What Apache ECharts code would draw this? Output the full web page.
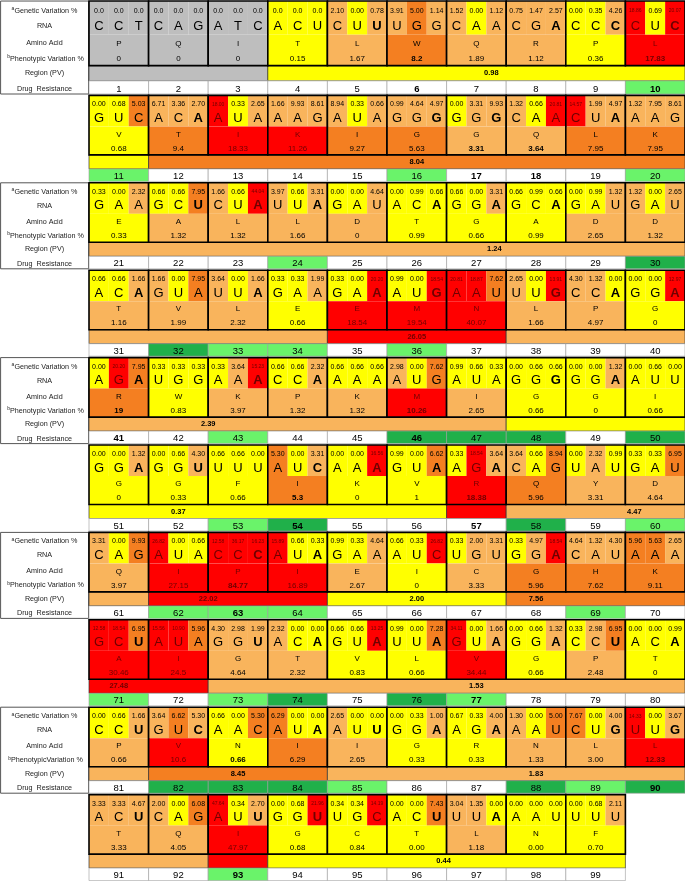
<!DOCTYPE html>
<html><head><meta charset="utf-8">
<script src="https://cdn.jsdelivr.net/npm/echarts@6/dist/echarts.min.js"></script>
<style>html,body{margin:0;padding:0;background:#fff}#c{width:685px;height:881px}</style>
</head><body><div id="c"></div>
<script>
// ---------------- DATA ----------------
const rnaCodons = [
 "CCT","CAG","ATC","ACU","CUU","UGG","CAA","CGA","CCC","CUC",
 "GUC","ACA","AUA","AAG","AUA","GGG","GGG","CAA","CUA","AAG",
 "GAA","GCU","CUA","UUA","GAU","ACA","GGA","GCA","GAU","GAU",
 "ACA","GUA","UUA","GAA","GAA","AUG","AAU","UUG","CCA","GGA",
 "AGA","UGG","AAA","CCA","AAA","AUG","AUA","GGG","GGA","AUU",
 "GGA","GGU","UUU","AUC","AAA","GUA","AGA","CAG","UAU","GAU",
 "CAG","AUA","CCC","AUA","GAA","AUC","UGU","GGA","CAU","AAA",
 "GCU","AUA","GGU","ACA","GUA","UUA","GUA","GGA","CCU","ACA",
 "CCU","GUC","AAC","AUA","AUU","GGA","AGA","AAU","CUG","UUG",
 "ACU","CAG","AUU","GGU","UGC","ACU","UUA","AAU","UUU"];
// codons whose third nucleotide is printed in bold
const boldThird = [5,8,9,10,12,16,17,19,22,23,24,26,27,28,31,33,35,36,38,39,40,41,43,44,48,49,
 51,52,54,55,56,57,63,64,68,71,73,74,75,76,77,78,79,80,81,82,84,85,86,87,89,90,91,93,94,96,97];
const aminoAcids = [
 "P","Q","I","T","L","W","Q","R","P","L",
 "V","T","I","K","I","G","G","Q","L","K",
 "E","A","L","L","D","T","G","A","D","D",
 "T","V","L","E","E","M","N","L","P","G",
 "R","W","K","P","K","M","I","G","G","I",
 "G","G","F","I","K","V","R","Q","Y","D",
 "Q","I","P","I","E","I","C","G","H","K",
 "A","I","G","T","V","L","V","G","P","T",
 "P","V","N","I","I","G","R","N","L","L",
 "T","Q","I","G","C","T","L","N","F"];
const geneticVariation = [
 ["0.0","0.0","0.0"],["0.0","0.0","0.0"],["0.0","0.0","0.0"],["0.0","0.0","0.0"],["2.10","0.00","0.78"],
 ["3.91","5.00","1.14"],["1.52","0.00","1.12"],["0.75","1.47","2.57"],["0.00","0.35","4.26"],["18.86","0.69","20.07"],
 ["0.00","0.68","5.03"],["6.71","3.36","2.70"],["18.00","0.33","2.65"],["1.66","9.93","8.61"],["8.94","0.33","0.66"],
 ["0.99","4.64","4.97"],["0.00","3.31","9.93"],["1.32","0.66","20.81"],["14.57","1.99","4.97"],["1.32","7.95","8.61"],
 ["0.33","0.00","2.32"],["0.66","0.66","7.95"],["1.66","0.66","44.04"],["3.97","0.66","3.31"],["0.00","0.00","4.64"],
 ["0.00","0.99","0.66"],["0.66","0.00","3.31"],["0.66","0.99","0.66"],["0.00","0.99","1.32"],["1.32","0.00","2.65"],
 ["0.66","0.66","1.66"],["1.66","0.00","7.95"],["3.64","0.00","1.66"],["0.33","0.33","1.99"],["0.33","0.00","20.20"],
 ["0.99","0.00","18.54"],["20.81","18.87","7.62"],["2.65","0.00","13.91"],["4.30","1.32","0.00"],["0.00","0.00","12.97"],
 ["0.00","20.20","7.95"],["0.33","0.33","0.33"],["0.33","3.64","15.23"],["0.66","0.66","2.32"],["0.66","0.66","0.66"],
 ["2.98","0.00","7.62"],["0.99","0.66","0.33"],["0.00","0.66","0.66"],["0.00","0.00","1.32"],["0.00","0.66","0.00"],
 ["0.00","0.00","1.32"],["0.00","0.66","4.30"],["0.66","0.66","0.00"],["5.30","0.00","3.31"],["0.00","0.00","16.56"],
 ["0.99","0.00","6.62"],["0.33","18.54","3.64"],["3.64","0.66","8.94"],["0.00","2.32","0.99"],["0.33","0.33","6.95"],
 ["3.31","0.00","9.93"],["26.82","0.00","0.66"],["12.58","36.17","16.23"],["15.89","0.66","0.33"],["0.99","0.33","4.64"],
 ["0.66","0.33","26.82"],["0.33","2.00","3.31"],["0.33","4.97","18.54"],["4.64","1.32","4.30"],["5.96","5.63","2.65"],
 ["12.58","18.54","6.95"],["15.56","10.90","5.96"],["4.30","2.98","1.99"],["2.32","0.00","0.00"],["0.66","0.66","13.25"],
 ["0.99","0.00","7.28"],["34.11","0.00","1.66"],["0.00","0.66","1.32"],["0.33","2.98","6.95"],["0.00","0.00","0.99"],
 ["0.00","0.66","1.66"],["3.64","6.62","5.30"],["0.66","0.00","5.30"],["6.29","0.00","0.00"],["2.65","0.00","0.00"],
 ["0.00","0.33","1.00"],["0.67","0.33","4.00"],["1.30","0.00","5.00"],["7.67","0.00","4.00"],["14.33","0.00","3.67"],
 ["3.33","3.33","4.67"],["2.00","0.00","6.08"],["47.64","0.34","2.70"],["0.00","0.68","21.96"],["0.34","0.34","14.19"],
 ["0.00","0.00","7.43"],["3.04","1.35","0.00"],["0.00","0.00","0.00"],["0.00","0.68","2.11"]];
// colour class of each nucleotide cell: g grey, y yellow, o light orange, d dark orange, r red
const nucleotideClass = [
 "ggg","ggg","ggg","yyy","oyo","odo","oyo","ooo","yyo","ryr",
 "yyd","ooo","ryo","ooo","oyo","ooo","yoo","oyr","roo","ooo",
 "yyo","yyd","oyr","oyo","yyo","yyy","yyo","yyy","yyo","oyo",
 "yyo","oyd","oyo","yyo","yyr","yyr","rrd","oyr","ooy","yyr",
 "yrd","yyy","yor","yyo","yyy","oyd","yyy","yyy","yyo","yyy",
 "yyo","yyo","yyy","dyo","yyr","yyd","yro","oyd","yoy","yyd",
 "oyd","ryy","rrr","ryy","yyo","yyr","yoo","yor","ooo","ddo",
 "rrd","rrd","ooo","oyy","yyr","yyd","ryo","yyo","yod","yyy",
 "yyo","odo","yyd","dyy","oyy","yyo","yyo","oyd","dyo","ryo",
 "ooo","oyd","ryo","yyr","yyr","yyd","ooy","yyy","yyo"];
const phenotypicVariation = [
 "0","0","0","0.15","1.67","8.2","1.89","1.12","0.36","17.83",
 "0.68","9.4","18.33","11.26","9.27","5.63","3.31","3.64","7.95","7.95",
 "0.33","1.32","1.32","1.66","0","0.99","0.66","0.99","2.65","1.32",
 "1.16","1.99","2.32","0.66","18.54","19.54","40.07","1.66","4.97","0",
 "19","0.83","3.97","1.32","1.32","10.26","2.65","0.66","0","0.66",
 "0","0.33","0.66","5.3","0","1","18.38","5.96","3.31","4.64",
 "3.97","27.15","84.77","16.89","2.67","0","3.33","5.96","7.62","9.11",
 "30.46","24.5","4.64","2.32","0.83","0.66","34.44","0.66","2.48","0",
 "0.66","10.6","0.66","6.29","2.65","0.33","0.33","1.33","3.00","12.33",
 "3.33","4.05","47.97","0.68","0.84","0.00","1.18","0.00","0.70"];
const pvBold = [6,10,17,18,41,46,54,57,63,83,90];
// colour class of each codon's amino-acid / phenotypic cell
const codonClass = [
 "g","g","g","y","o","d","o","o","y","r",
 "y","d","r","r","d","d","o","o","d","d",
 "y","o","o","o","o","y","y","y","o","o",
 "o","o","o","y","r","r","r","o","o","y",
 "d","y","o","o","o","r","o","y","y","y",
 "y","y","y","d","y","y","r","d","o","o",
 "o","r","r","r","o","y","o","d","d","d",
 "r","r","o","o","y","y","r","y","o","y",
 "o","r","y","d","o","y","y","o","o","r",
 "o","o","r","y","y","y","o","y","y"];
// drug resistance cell class: w none, l light green, e dark green
const drugResistance = [
 "w","w","w","w","w","w","w","w","w","l",
 "l","w","w","w","w","l","w","w","w","l",
 "w","w","w","l","w","w","w","w","w","e",
 "w","e","l","l","w","l","w","w","w","w",
 "w","w","l","w","w","e","e","e","w","e",
 "w","w","l","e","w","w","w","e","w","l",
 "w","l","l","l","w","w","w","w","l","w",
 "l","w","l","e","w","e","l","w","w","w",
 "w","e","e","e","l","w","w","e","l","e",
 "w","w","l","w","w","w","w","w","w"];
const drugBold = [6,10,17,18,41,46,54,57,63,77,90,93];
// regions: first codon, last codon, colour class, mean PV label, codon coordinate where the label sits
const regionStart = [1,4,12,21,35,38,48,57,58,62,65,68,71,73,82,85,93,94];
const regionEnd   = [3,11,20,34,37,47,56,57,61,64,67,70,72,81,84,92,93,99];
const regionClass = ["g","y","d","o","r","o","y","r","o","r","y","d","r","o","d","o","r","y"];
const regionLabel = [null,"0.98","8.04","1.24","26.05","2.39","0.37",null,"4.47","22.02","2.00","7.56","27.48","1.53","8.45","1.83",null,"0.44"];
const regionLabelAt = [null,6.75,15.5,26.8,35.5,42,51.5,null,59.15,62,65.5,67.5,70.5,76.5,82.5,87.5,null,95.95];
const rowLabels = ["Genetic Variation %","RNA","Amino Acid","Phenotypic Variation %","Region (PV)","Drug  Resistance"];

// ---------------- STYLE / LAYOUT ----------------
const COL = {g:'#BEBEBE', y:'#FFFF00', o:'#F9B45C', d:'#F47F21', r:'#FF0000'};
const DCOL = {w:'#FFFFFF', l:'#6AF36A', e:'#20B04A'};
const FONT = "'Liberation Sans', Arial, sans-serif";
const XMIN = -4.48;
const PITCH = 87.4, YMAX = 881/PITCH;
// row offsets in px relative to the drug-number line of a block
const OFF = {top:-81, gen:-72, rna:-58, split:-50, aa:-42, pv:-28, bot:-21.5, reg:-7.5, end:5};
function Y(k, key){ const s = (k===0 && OFF[key]<0) ? 1.086 : 1; return k + (89 + OFF[key]*s)/PITCH; }
function txtColor(c){ return c==='r' ? '#700000' : '#000'; }
function rectFrom(a,b){ return {x:Math.min(a[0],b[0]),y:Math.min(a[1],b[1]),width:Math.abs(b[0]-a[0]),height:Math.abs(b[1]-a[1])}; }

function codonRender(params, api){
  const i = api.value(2);
  const k = Math.floor(i/10), j = i%10, x0 = 3*j;
  const P = (x,y)=>api.coord([x,y]);
  const ch = [];
  const ncl = nucleotideClass[i], cc = codonClass[i];
  for(let n=0;n<3;n++){
    ch.push({type:'rect',shape:rectFrom(P(x0+n,Y(k,'top')),P(x0+n+1,Y(k,'split'))),style:{fill:COL[ncl[n]]}});
  }
  ch.push({type:'rect',shape:rectFrom(P(x0,Y(k,'split')),P(x0+3,Y(k,'bot'))),style:{fill:COL[cc]}});
  for(let n=0;n<3;n++){
    const g=P(x0+n+0.5,Y(k,'gen')), r=P(x0+n+0.5,Y(k,'rna'));
    const red = ncl[n]==='r';
    ch.push({type:'text',style:{text:geneticVariation[i][n],x:g[0],y:g[1],align:'center',verticalAlign:'middle',
      font:(red?'5px ':'7px ')+FONT,fill:txtColor(ncl[n])}});
    const bold = (n===2 && boldThird.includes(i+1));
    ch.push({type:'text',style:{text:rnaCodons[i][n],x:r[0],y:r[1],align:'center',verticalAlign:'middle',
      font:(bold?'bold ':'')+'13px '+FONT,fill:txtColor(ncl[n])}});
  }
  const aa=P(x0+1.5,Y(k,'aa')), pv=P(x0+1.5,Y(k,'pv'));
  ch.push({type:'text',style:{text:aminoAcids[i],x:aa[0],y:aa[1],align:'center',verticalAlign:'middle',font:'8px '+FONT,fill:txtColor(cc)}});
  ch.push({type:'text',style:{text:phenotypicVariation[i],x:pv[0],y:pv[1],align:'center',verticalAlign:'middle',
    font:(pvBold.includes(i+1)?'bold ':'')+'8px '+FONT,fill:txtColor(cc)}});
  ch.push({type:'rect',shape:rectFrom(P(x0,Y(k,'top')),P(x0+3,Y(k,'bot'))),style:{fill:'none',stroke:'#000',lineWidth:1.6}});
  return {type:'group',children:ch};
}

function drugRender(params, api){
  const i = api.value(2);
  const k = Math.floor(i/10), j = i%10, x0=3*j;
  const c = api.coord([x0+1.5, k+89/PITCH]);
  return {type:'group',children:[
    {type:'rect',shape:rectFrom(api.coord([x0,Y(k,'reg')]),api.coord([x0+3,Y(k,'end')])),style:{fill:DCOL[drugResistance[i]],stroke:'#9a9a9a',lineWidth:0.6}},
    {type:'text',style:{text:String(i+1),x:c[0],y:c[1],align:'center',verticalAlign:'middle',
      font:(drugBold.includes(i+1)?'bold ':'')+'9.5px '+FONT,fill:'#000'}}
  ]};
}

// region pieces per block
const regionPieces = [];
regionStart.forEach((s,ri)=>{
  const e = regionEnd[ri];
  const at = regionLabelAt[ri];
  for(let k=Math.floor((s-1)/10); k<=Math.floor((e-1)/10); k++){
    const ps = Math.max(s-1,k*10), pe = Math.min(e,k*10+10);
    const hasLabel = regionLabel[ri] && at>=k*10 && at<k*10+10;
    regionPieces.push([ps,pe,k,ri,hasLabel?1:0]);
  }
});
function regionRender(params, api){
  const ps=api.value(0), pe=api.value(1), k=api.value(2), ri=api.value(3), lab=api.value(4);
  const x0=(ps-10*k)*3, x1=(pe-10*k)*3;
  const ch=[{type:'rect',shape:rectFrom(api.coord([x0,Y(k,'bot')]),api.coord([x1,Y(k,'reg')])),style:{fill:COL[regionClass[ri]],stroke:'#333',lineWidth:0.7}}];
  if(lab){
    const c=api.coord([(regionLabelAt[ri]-10*k)*3,(Y(k,'bot')+Y(k,'reg'))/2]);
    ch.push({type:'text',style:{text:regionLabel[ri],x:c[0],y:c[1],align:'center',verticalAlign:'middle',font:'bold 7.5px '+FONT,fill:txtColor(regionClass[ri])}});
  }
  return {type:'group',children:ch};
}

function labelRender(params, api){
  const k = api.value(2);
  const P=(x,y)=>api.coord([x,y]);
  const cx = XMIN/2;
  const ys=[Y(k,'gen'),Y(k,'rna'),Y(k,'aa'),Y(k,'pv'),(Y(k,'bot')+Y(k,'reg'))/2,k+89/PITCH];
  const ch=[{type:'rect',shape:rectFrom(P(XMIN+0.03,Y(k,'top')),P(-0.02,Y(k,'end'))),style:{fill:'#fff',stroke:'#555',lineWidth:1}}];
  rowLabels.forEach((t,m)=>{
    const p=P(cx,ys[m]);
    let text=t;
    if(m===0){text='{s|a}{n|'+t+'}';}
    if(m===3){text='{s|b}{n|'+(k===8?'PhenotypicVariation %':t)+'}';}
    const st={text:text,x:p[0]+(m===3?1:0),y:p[1],align:'center',verticalAlign:'middle',font:'7.2px '+FONT,fill:'#222'};
    if(m===0||m===3){st.rich={s:{fontSize:5,fontFamily:FONT,verticalAlign:'top',lineHeight:9,fill:'#222'},n:{fontSize:7.2,fontFamily:FONT,lineHeight:9,fill:'#222'}};}
    ch.push({type:'text',style:st});
  });
  return {type:'group',children:ch};
}

const chart = echarts.init(document.getElementById('c'), null, {renderer:'canvas'});
chart.setOption({
  animation:false,
  grid:{left:0,right:0,top:0,bottom:0,containLabel:false},
  xAxis:{type:'value',min:XMIN,max:30,show:false},
  yAxis:{type:'value',min:0,max:YMAX,inverse:true,show:false},
  series:[
    {type:'custom',renderItem:labelRender,clip:false,data:[0,2,4,6,8].map(k=>[-2,k+0.5,k])},
    {type:'custom',renderItem:regionRender,clip:false,data:regionPieces},
    {type:'custom',renderItem:drugRender,clip:false,data:rnaCodons.map((c,i)=>[3*(i%10)+1.5,Math.floor(i/10)+0.9,i])},
    {type:'custom',renderItem:codonRender,clip:false,data:rnaCodons.map((c,i)=>[3*(i%10)+1.5,Math.floor(i/10)+0.3,i])}
  ]
});
</script></body></html>
